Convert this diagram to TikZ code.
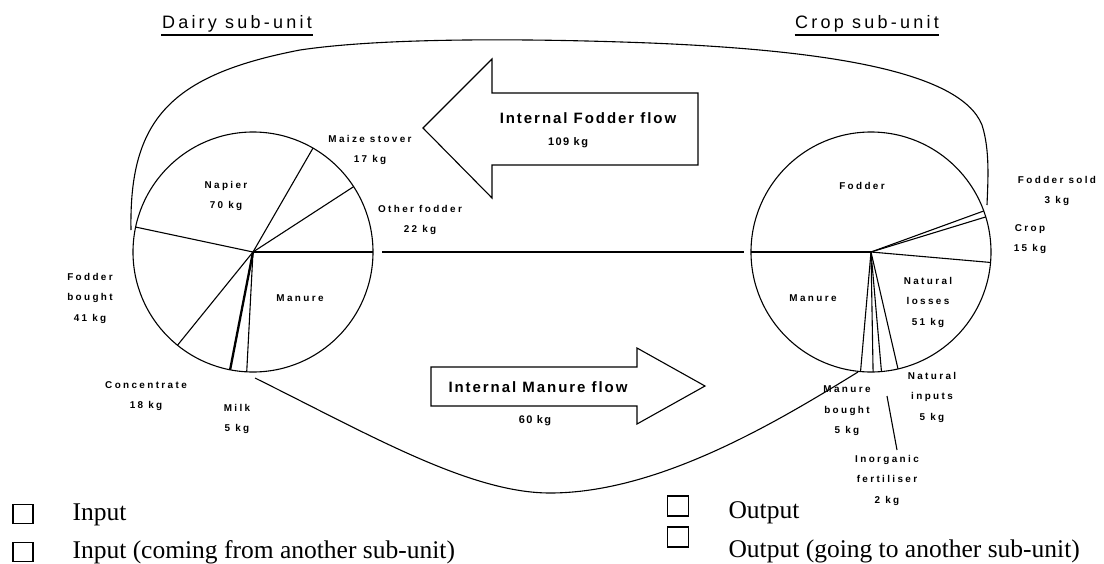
\documentclass[tikz,border=0pt]{standalone}
\usepackage{fontspec}
\setmainfont{Liberation Serif}
\newfontfamily\lblfont{Liberation Sans}[LetterSpace=24]
\newfontfamily\midfont{Liberation Sans}[LetterSpace=13]
\newfontfamily\ttlfont{Liberation Sans}[LetterSpace=18]
\begin{document}
\begin{tikzpicture}[x=1pt,y=-1pt,line width=1.1pt,
  pie/.style={circle,draw,minimum size=240pt,inner sep=0pt,outer sep=0pt},
  lbl/.style={font=\lblfont\bfseries\fontsize{9.9}{20.5}\selectfont,align=center,inner sep=0pt},
  flowtxt/.style={font=\midfont\bfseries\fontsize{15}{18}\selectfont,inner sep=0pt},
  flowkg/.style={font=\midfont\bfseries\fontsize{11}{13}\selectfont,inner sep=0pt},
  ttl/.style={font=\ttlfont\fontsize{18}{20}\selectfont,inner sep=0pt,anchor=base},
  sqbox/.style={draw,line width=1.2pt,minimum width=20pt,minimum height=19pt,inner sep=0pt},
  legtxt/.style={font=\fontsize{25.5}{28}\selectfont,inner sep=0pt,anchor=base west}]
\useasboundingbox (0,0) rectangle (1104,563);

% titles
\node[ttl] (dt) at (237,28) {Dairy sub-unit};
\draw ([yshift=-7pt]dt.base west) -- ([yshift=-7pt]dt.base east);
\node[ttl] (ct) at (867,28) {Crop sub-unit};
\draw ([yshift=-7pt]ct.base west) -- ([yshift=-7pt]ct.base east);

% pies
\node[pie] (dairy) at (253,252) {};
\node[pie] (crop) at (871,252) {};
\foreach \a in {60.4,33,0,168.8,231.3,267.6}
  \draw (dairy.center) -- (dairy.\a);
\draw[line width=2.3pt] (dairy.center) -- (dairy.259);
\foreach \a in {20.6,17.2,355.2,283,275.3,271.9,265.7}
  \draw (crop.center) -- (crop.\a);
\draw (crop.180) -- (crop.center);
\draw ([xshift=9pt]dairy.0) -- ([xshift=-7pt]crop.180);

% connecting curves
\coordinate (tl) at (131,230);
\coordinate (tr) at (987,205);
\draw (tl) .. controls (129,120) and (170,75) .. (300,50)
           .. controls (380,38) and (520,38) .. (650,43)
           .. controls (820,50) and (960,70) .. (982,125)
           .. controls (990,150) and (988,180) .. (tr);
\coordinate (bl) at (255,378);
\coordinate (br) at (858,372);
\draw (bl) .. controls (370,435) and (470,493) .. (550,493)
           .. controls (660,493) and (780,420) .. (br);

% flow arrows
\draw (423,128) -- (492,59) -- (492,93) -- (698,93) -- (698,165) -- (492,165) -- (492,198) -- cycle;
\node[flowtxt] (fft) at (588,118) {Internal Fodder flow};
\node[flowkg] (ffk) at (568,143) {109 kg};
\draw (431,367) -- (637,367) -- (637,348) -- (705,386) -- (637,424) -- (637,406) -- (431,406) -- cycle;
\node[flowtxt] (mft) at (538,387) {Internal Manure flow};
\node[flowkg] (mfk) at (535,421) {60 kg};

% dairy labels
\node[lbl] (maize) at (370,150) {Maize stover\\17 kg};
\node[lbl] (napier) at (226,196) {Napier\\70 kg};
\node[lbl] (other) at (420,220) {Other fodder\\22 kg};
\node[lbl] (fbought) at (90,298) {Fodder\\bought\\41 kg};
\node[lbl] (manl) at (300,298) {Manure};
\node[lbl] (conc) at (146,396) {Concentrate\\18 kg};
\node[lbl] (milk) at (237,419) {Milk\\5 kg};

% crop labels
\node[lbl] (fodr) at (862,186) {Fodder};
\node[lbl] (fsold) at (1057,191) {Fodder sold\\3 kg};
\node[lbl] (cropl) at (1030,239) {Crop\\15 kg};
\node[lbl] (loss) at (928,302) {Natural\\losses\\51 kg};
\node[lbl] (manr) at (813,298) {Manure};
\node[lbl] (ninp) at (932,397) {Natural\\inputs\\5 kg};
\node[lbl] (mbought) at (847,411) {Manure\\bought\\5 kg};
\node[lbl] (inorg) at (887,480) {Inorganic\\fertiliser\\2 kg};
\coordinate (la) at (887,396);
\coordinate (lb) at (897,450);
\draw (la) -- (lb);

% legend
\node[sqbox] (s1) at (23,514) {};
\node[sqbox] (s2) at (23,552) {};
\node[sqbox,minimum width=21pt,minimum height=20pt] (s3) at (678,506) {};
\node[sqbox,minimum width=21pt,minimum height=20pt] (s4) at (678,537) {};
\node[legtxt] (l1) at (72,520) {Input};
\node[legtxt] (l2) at (72,558) {Input (coming from another sub-unit)};
\node[legtxt] (l3) at (728,518) {Output};
\node[legtxt] (l4) at (728,557) {Output (going to another sub-unit)};
\end{tikzpicture}
\end{document}
